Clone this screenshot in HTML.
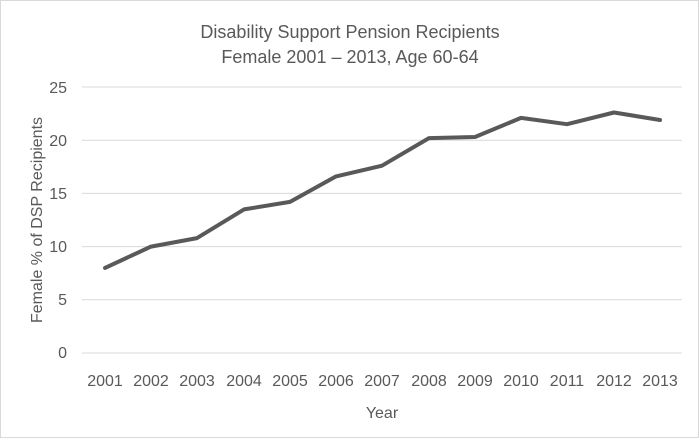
<!DOCTYPE html>
<html><head><style>body{margin:0;background:#fff}</style></head><body>
<svg width="700" height="439" xmlns="http://www.w3.org/2000/svg" font-family="Liberation Sans, sans-serif">
<rect x="0.5" y="0.5" width="698" height="437" fill="#fff" stroke="#d9d9d9"/>
<text x="350" y="38" text-anchor="middle" font-size="18" fill="#595959">Disability Support Pension Recipients</text>
<text x="350" y="63" text-anchor="middle" font-size="18" fill="#595959">Female 2001 – 2013, Age 60-64</text>
<g stroke="#d9d9d9" stroke-width="1">
<line x1="82" x2="682" y1="87" y2="87"/><line x1="82" x2="682" y1="140.2" y2="140.2"/>
<line x1="82" x2="682" y1="193.4" y2="193.4"/><line x1="82" x2="682" y1="246.6" y2="246.6"/>
<line x1="82" x2="682" y1="299.8" y2="299.8"/><line x1="82" x2="682" y1="353" y2="353"/>
</g>
<g font-size="16" fill="#595959" text-anchor="end">
<text x="67" y="93">25</text><text x="67" y="146">20</text><text x="67" y="199">15</text>
<text x="67" y="252">10</text><text x="67" y="305">5</text><text x="67" y="358">0</text>
</g>
<g font-size="16" fill="#595959" text-anchor="middle">
<text x="105" y="386">2001</text><text x="151" y="386">2002</text><text x="197" y="386">2003</text>
<text x="244" y="386">2004</text><text x="290" y="386">2005</text><text x="336" y="386">2006</text>
<text x="382" y="386">2007</text><text x="429" y="386">2008</text><text x="475" y="386">2009</text>
<text x="521" y="386">2010</text><text x="567" y="386">2011</text><text x="614" y="386">2012</text>
<text x="660" y="386">2013</text>
</g>
<text x="382" y="418" text-anchor="middle" font-size="16" fill="#595959">Year</text>
<text transform="translate(42,220) rotate(-90)" text-anchor="middle" font-size="16" fill="#595959">Female % of DSP Recipients</text>
<polyline fill="none" stroke="#595959" stroke-width="4" stroke-linejoin="round" stroke-linecap="round"
points="105,267.9 151,246.6 197,238.1 244,209.4 290,201.9 336,176.4 382,165.7 429,138.1 475,137 521,117.9 567,124.2 614,112.5 660,120"/>
</svg>
</body></html>
